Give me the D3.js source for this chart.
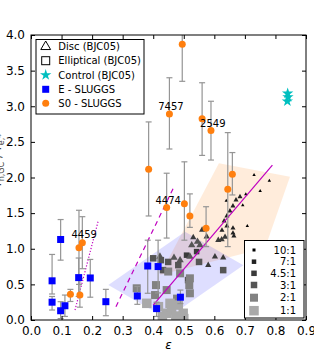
<!DOCTYPE html>
<html>
<head>
<meta charset="utf-8">
<script src="https://cdn.jsdelivr.net/npm/d3@7"></script>
<style>
    body { margin: 0; background: #fff; }
    text { font-family: "DejaVu Sans", sans-serif; }
</style>
</head>
<body>
<script>
// S0 - SLUGGS (eps, value, lower, upper)
var s0Eps = [0.495, 0.453, 0.560, 0.589, 0.659, 0.644, 0.573, 0.444, 0.502, 0.520, 0.385, 0.157, 0.168, 0.129, 0.160];
var s0Val = [3.87, 2.89, 2.825, 2.66, 2.045, 1.834, 1.287, 1.58, 1.63, 1.46, 2.115, 1.015, 1.085, 0.36, 0.35];
var s0Lo  = [3.35, 2.40, 2.31, 2.245, 1.755, 1.03, 1.03, 1.15, 1.12, 1.30, 1.46, 0.50, 0.72, 0.26, 0.18];
var s0Hi  = [4.40, 3.40, 3.33, 3.07, 2.35, 2.63, 1.59, 2.06, 2.22, 1.77, 2.78, 1.54, 1.45, 0.43, 0.58];

// E - SLUGGS
var eEps = [0.097, 0.069, 0.069, 0.097, 0.111, 0.156, 0.194, 0.245, 0.382, 0.416, 0.348, 0.411, 0.489];
var eVal = [1.13, 0.55, 0.25, 0.13, 0.20, 0.595, 0.59, 0.257, 0.758, 0.75, 0.337, 0.16, 0.32];
var eLo  = [0.84, 0.365, 0.14, 0.02, 0.05, 0.33, 0.32, 0.06, 0.375, 0.38, 0.22, 0.05, 0.23];
var eHi  = [1.41, 0.92, 0.33, 0.257, 0.35, 0.87, 0.85, 0.43, 1.12, 1.12, 0.47, 0.25, 0.42];

// galaxy ids written next to some points
var noteText = ["7457", "2549", "4474", "4459"];
var noteEps  = [0.458, 0.595, 0.449, 0.174];
var noteVal  = [2.947, 2.709, 1.635, 1.144];

// BJC05 simulations: mass ratio index into ratioLabels
var ratioLabels = ["10:1", "7:1", "4.5:1", "3:1", "2:1", "1:1"];

var discEps = [0.730, 0.780, 0.750, 0.703, 0.693, 0.639, 0.708,
    0.684, 0.671, 0.661, 0.651, 0.641, 0.632, 0.641, 0.625, 0.661, 0.661, 0.664,
    0.560, 0.575, 0.613, 0.624, 0.635, 0.531, 0.602, 0.629, 0.580,
    0.553, 0.526, 0.422, 0.468, 0.488, 0.520, 0.545];
var discVal = [2.035, 1.955, 1.81, 1.765, 1.61, 1.675, 1.32,
    1.73, 1.685, 1.60, 1.53, 1.46, 1.39, 1.32, 1.26, 1.29, 1.22, 1.18,
    1.265, 1.17, 1.12, 1.13, 1.165, 1.16, 0.89, 0.875, 0.77,
    1.05, 1.05, 0.89, 0.875, 0.84, 0.89, 1.10];
var discRatio = [0, 0, 0, 0, 0, 0, 0,
    1, 1, 1, 1, 1, 1, 1, 1, 1, 1, 1,
    2, 2, 2, 2, 2, 2, 2, 2, 2,
    3, 3, 3, 3, 3, 3, 3];

var ellEps = [0.400, 0.425, 0.449, 0.482, 0.509, 0.542, 0.550, 0.629, 0.432, 0.514,
    0.449, 0.488, 0.520, 0.409, 0.444, 0.518, 0.520, 0.406, 0.346, 0.478,
    0.417, 0.455, 0.444, 0.460, 0.498, 0.482, 0.379, 0.474, 0.430, 0.500];
var ellVal = [0.866, 0.84, 0.815, 0.77, 0.91, 0.96, 0.815, 0.70, 0.70, 0.56,
    0.68, 0.655, 0.585, 0.49, 0.42, 0.49, 0.375, 0.35, 0.445, 0.30,
    0.187, 0.234, 0.094, 0.14, 0.094, 0.21, 0.234, 0.056, 0.05, 0.02];
var ellRatio = [3, 3, 3, 3, 2, 2, 3, 3, 3, 3,
    4, 4, 4, 4, 4, 4, 4, 4, 4, 4,
    5, 5, 5, 5, 5, 5, 5, 5, 5, 5];

// control runs
var ctrlEps = [0.839, 0.841, 0.840];
var ctrlVal = [3.07, 3.13, 3.18];

// shaded regions and fitted lines
var peachPoly = [[0.615, 2.20], [0.8475, 2.01], [0.766, 1.01], [0.422, 0.63]];
var bluePoly  = [[0.253, 0.49], [0.504, 1.24], [0.695, 0.77], [0.444, 0.02]];
var solidLine  = [[0.400, 0.21], [0.790, 2.175]];
var dashedLine = [[0.278, 0.187], [0.468, 1.87]];
var dottedLine = [[0.144, 0.14], [0.220, 1.39]];

var xTicks = [0.0, 0.1, 0.2, 0.3, 0.4, 0.5, 0.6, 0.7, 0.8, 0.9];
var yTicks = [0.0, 0.5, 1.0, 1.5, 2.0, 2.5, 3.0, 3.5, 4.0];

// look of each mass ratio
var ratioSide  = [3, 4.5, 5.5, 6.5, 8, 9.5];
var ratioColor = ["#000000", "#222222", "#3a3a3a", "#555555", "#828282", "#a9a9a9"];

var W = 314, H = 356;
var margin = { left: 31, top: 35, right: 8, bottom: 36 };

var svg = d3.select("body").append("svg")
    .attr("width", W)
    .attr("height", H);

var x = d3.scaleLinear().domain([0, 0.9]).range([margin.left, W - margin.right]);
var y = d3.scaleLinear().domain([0, 4]).range([H - margin.bottom, margin.top]);

svg.append("clipPath").attr("id", "plot")
    .append("rect")
    .attr("x", x(0)).attr("y", y(4))
    .attr("width", x(0.9) - x(0)).attr("height", y(0) - y(4));

var plot = svg.append("g").attr("clip-path", "url(#plot)");

// shaded regions
function polyPath(p) {
    return "M" + p.map(function (d) { return x(d[0]) + "," + y(d[1]); }).join("L") + "Z";
}
plot.append("path").attr("d", polyPath(peachPoly)).attr("fill", "#ff7f0e").attr("fill-opacity", 0.15);
plot.append("path").attr("d", polyPath(bluePoly)).attr("fill", "#0000ff").attr("fill-opacity", 0.13);

// simulations
plot.selectAll(".ell")
    .data(d3.range(ellEps.length))
    .enter().append("rect")
    .attr("class", "ell")
    .attr("x", function (i) { return x(ellEps[i]) - ratioSide[ellRatio[i]] / 2; })
    .attr("y", function (i) { return y(ellVal[i]) - ratioSide[ellRatio[i]] / 2; })
    .attr("width", function (i) { return ratioSide[ellRatio[i]]; })
    .attr("height", function (i) { return ratioSide[ellRatio[i]]; })
    .attr("fill", function (i) { return ratioColor[ellRatio[i]]; });

var tri = d3.symbol().type(d3.symbolTriangle);
plot.selectAll(".disc")
    .data(d3.range(discEps.length))
    .enter().append("path")
    .attr("class", "disc")
    .attr("d", function (i) { var s = ratioSide[discRatio[i]]; return tri.size(s * s * 0.55)(); })
    .attr("transform", function (i) { return "translate(" + x(discEps[i]) + "," + y(discVal[i]) + ")"; })
    .attr("fill", function (i) { return ratioColor[discRatio[i]]; });

// fitted lines
var line = d3.line().x(function (d) { return x(d[0]); }).y(function (d) { return y(d[1]); });
plot.append("path").attr("d", line(solidLine)).attr("stroke", "#c000c0").attr("stroke-width", 1.2).attr("fill", "none");
plot.append("path").attr("d", line(dashedLine)).attr("stroke", "#c000c0").attr("stroke-width", 1.2)
    .attr("stroke-dasharray", "5,4").attr("fill", "none");
plot.append("path").attr("d", line(dottedLine)).attr("stroke", "#c000c0").attr("stroke-width", 1.2)
    .attr("stroke-dasharray", "1.2,1.8").attr("fill", "none");

// error bars
function errorBars(eps, lo, hi) {
    var g = plot.append("g").attr("stroke", "#959595").attr("stroke-width", 1.2);
    eps.forEach(function (e, i) {
        g.append("line").attr("x1", x(e)).attr("x2", x(e)).attr("y1", y(lo[i])).attr("y2", y(hi[i]));
        g.append("line").attr("x1", x(e) - 3).attr("x2", x(e) + 3).attr("y1", y(lo[i])).attr("y2", y(lo[i]));
        g.append("line").attr("x1", x(e) - 3).attr("x2", x(e) + 3).attr("y1", y(hi[i])).attr("y2", y(hi[i]));
    });
}
errorBars(eEps, eLo, eHi);
errorBars(s0Eps, s0Lo, s0Hi);

plot.selectAll(".e")
    .data(d3.range(eEps.length))
    .enter().append("rect")
    .attr("class", "e")
    .attr("x", function (i) { return x(eEps[i]) - 3.5; })
    .attr("y", function (i) { return y(eVal[i]) - 3.5; })
    .attr("width", 7).attr("height", 7)
    .attr("fill", "#0000ff");

plot.selectAll(".s0")
    .data(d3.range(s0Eps.length))
    .enter().append("circle")
    .attr("class", "s0")
    .attr("cx", function (i) { return x(s0Eps[i]); })
    .attr("cy", function (i) { return y(s0Val[i]); })
    .attr("r", 3.5)
    .attr("fill", "#ff7f0e");

var star = d3.symbol().type(d3.symbolStar).size(40);
plot.selectAll(".ctrl")
    .data(d3.range(ctrlEps.length))
    .enter().append("path")
    .attr("class", "ctrl")
    .attr("d", star())
    .attr("transform", function (i) { return "translate(" + x(ctrlEps[i]) + "," + y(ctrlVal[i]) + ")"; })
    .attr("fill", "#00bfbf");

// galaxy ids
svg.selectAll(".note")
    .data(noteText)
    .enter().append("text")
    .attr("class", "note")
    .attr("x", function (d, i) { return x(noteEps[i]); })
    .attr("y", function (d, i) { return y(noteVal[i]); })
    .attr("text-anchor", "middle")
    .attr("font-size", 10)
    .text(function (d) { return d; });

// axes, ticks inside on all sides
var axisB = d3.axisBottom(x).tickValues(xTicks).tickFormat(d3.format(".1f")).tickSizeInner(-4).tickSizeOuter(0).tickPadding(6);
var axisT = d3.axisTop(x).tickValues(xTicks).tickFormat("").tickSizeInner(-4).tickSizeOuter(0);
var axisL = d3.axisLeft(y).tickValues(yTicks).tickFormat(d3.format(".1f")).tickSizeInner(-4).tickSizeOuter(0).tickPadding(6);
var axisR = d3.axisRight(y).tickValues(yTicks).tickFormat("").tickSizeInner(-4).tickSizeOuter(0);

svg.append("g").attr("transform", "translate(0," + y(0) + ")").call(axisB);
svg.append("g").attr("transform", "translate(0," + y(4) + ")").call(axisT);
svg.append("g").attr("transform", "translate(" + x(0) + ",0)").call(axisL);
svg.append("g").attr("transform", "translate(" + x(0.9) + ",0)").call(axisR);
svg.selectAll(".domain").remove();
svg.selectAll(".tick text").attr("font-size", 12).attr("fill", "#000").attr("font-family", "DejaVu Sans, sans-serif");
svg.selectAll(".tick line").attr("stroke", "#000");

svg.append("rect")
    .attr("x", x(0)).attr("y", y(4))
    .attr("width", x(0.9) - x(0)).attr("height", y(0) - y(4))
    .attr("fill", "none").attr("stroke", "#000").attr("stroke-width", 1);

// axis labels (the y label sits mostly outside the picture, as in the original)
svg.append("text")
    .attr("x", 168.5).attr("y", 349)
    .attr("text-anchor", "middle")
    .attr("font-size", 12).attr("font-style", "italic")
    .text("\u03b5");

var ylab = svg.append("text")
    .attr("transform", "translate(1,160) rotate(-90)")
    .attr("text-anchor", "middle")
    .attr("font-size", 12)
    .attr("fill", "#444");
ylab.append("tspan").text("r");
ylab.append("tspan").attr("dy", 3).attr("font-size", 8).text("h,GC");
ylab.append("tspan").attr("dy", -3).text(" / r");
ylab.append("tspan").attr("dy", 3).attr("font-size", 8).text("e,*");

// main legend
var leg = svg.append("g");
leg.append("rect").attr("x", 36).attr("y", 39.5).attr("width", 108).attr("height", 74.5)
    .attr("fill", "#fff").attr("stroke", "#000").attr("stroke-width", 1);
var legNames = ["Disc (BJC05)", "Elliptical (BJC05)", "Control (BJC05)", "E - SLUGGS", "S0 - SLUGGS"];
var legY = [46.7, 60.7, 75, 89.3, 103.3];
leg.selectAll(".lt")
    .data(legNames)
    .enter().append("text")
    .attr("x", 58.3)
    .attr("y", function (d, i) { return legY[i] + 3.6; })
    .attr("font-size", 10)
    .text(function (d) { return d; });
leg.append("path").attr("d", d3.symbol().type(d3.symbolTriangle).size(42)())
    .attr("transform", "translate(45.7," + legY[0] + ")")
    .attr("fill", "none").attr("stroke", "#000").attr("stroke-width", 1);
leg.append("rect").attr("x", 41.7).attr("y", legY[1] - 4).attr("width", 8).attr("height", 8)
    .attr("fill", "none").attr("stroke", "#000").attr("stroke-width", 1);
leg.append("path").attr("d", star())
    .attr("transform", "translate(45.7," + legY[2] + ")")
    .attr("fill", "#00bfbf");
leg.append("rect").attr("x", 42.2).attr("y", legY[3] - 3.5).attr("width", 7).attr("height", 7)
    .attr("fill", "#0000ff");
leg.append("circle").attr("cx", 45.7).attr("cy", legY[4]).attr("r", 3.5).attr("fill", "#ff7f0e");

// mass ratio legend
var leg2 = svg.append("g");
leg2.append("rect").attr("x", 244.5).attr("y", 240.5).attr("width", 59.5).attr("height", 77.5)
    .attr("fill", "#fff").attr("stroke", "#000").attr("stroke-width", 1);
var ratioY = [250, 261.7, 273.3, 285, 297.7, 310.7];
ratioLabels.forEach(function (lab, i) {
    var s = ratioSide[i];
    leg2.append("rect").attr("x", 254 - s / 2).attr("y", ratioY[i] - s / 2)
        .attr("width", s).attr("height", s).attr("fill", ratioColor[i]);
    leg2.append("text").attr("x", 296).attr("y", ratioY[i] + 3.6)
        .attr("text-anchor", "end").attr("font-size", 10).text(lab);
});
</script>
</body>
</html>
